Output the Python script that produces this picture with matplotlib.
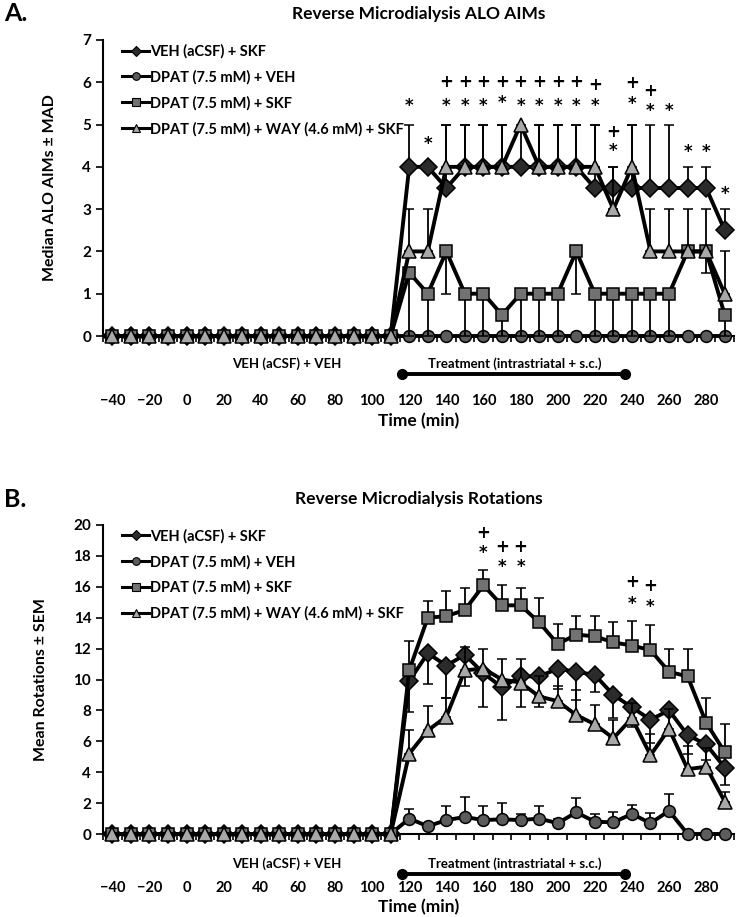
import numpy as np
import matplotlib.pyplot as plt
from matplotlib.lines import Line2D

plt.rcParams['font.family'] = ['Lato', 'DejaVu Sans']
plt.rcParams['font.weight'] = 'bold'

# time points (min)
times = list(range(-40, 300, 10))
pre = [0] * 16

labels = ['VEH (aCSF) + SKF', 'DPAT (7.5 mM) + VEH',
          'DPAT (7.5 mM) + SKF', 'DPAT (7.5 mM) + WAY (4.6 mM) + SKF']

# ---- panel A: median AIMs +/- MAD
a_veh_skf = pre + [4, 4, 3.5, 4, 4, 4, 4, 4, 4, 4, 3.5, 3.5, 3.5, 3.5, 3.5, 3.5, 3.5, 2.5]
a_veh_skf_err = pre + [1, 0, 1.5, 1, 1, 1, 1, 1, 1, 1, 1.5, 0.5, 1.5, 1.5, 1.5, 0.5, 0.5, 0.5]
a_dpat_veh = [0] * 34
a_dpat_veh_err = [0] * 34
a_dpat_skf = pre + [1.5, 1, 2, 1, 1, 0.5, 1, 1, 1, 2, 1, 1, 1, 1, 1, 2, 2, 0.5]
a_dpat_skf_err = pre + [1.5, 1, 1, 1, 1, 0.5, 1, 1, 1, 1, 1, 1, 1, 1, 1, 0, 0.5, 0.5]
a_way = pre + [2, 2, 4, 4, 4, 4, 5, 4, 4, 4, 4, 3, 4, 2, 2, 2, 2, 1]
a_way_err = pre + [1, 1, 1, 1, 1, 1, 0, 1, 1, 1, 1, 1, 1, 1, 1, 1, 1, 1]

a_star_t = [120, 130, 140, 150, 160, 170, 180, 190, 200, 210, 220, 230, 240, 250, 260, 270, 280, 290]
a_star_y = [5.45, 4.55, 5.45, 5.45, 5.45, 5.5, 5.45, 5.45, 5.45, 5.45, 5.45, 4.37, 5.48, 5.32, 5.32, 4.35, 4.35, 3.35]
a_plus_t = [140, 150, 160, 170, 180, 190, 200, 210, 220, 230, 240, 250]
a_plus_y = [6.0, 6.0, 6.0, 6.0, 6.0, 6.0, 6.0, 6.0, 5.93, 4.83, 5.98, 5.8]

# ---- panel B: mean rotations +/- SEM
b_veh_skf = pre + [9.9, 11.7, 10.9, 11.6, 10.4, 9.5, 10.2, 10.2, 10.7, 10.5, 10.3, 9.0, 8.2, 7.4, 8.0, 6.4, 5.8, 4.3]
b_veh_skf_err = pre + [2.0, 2.0, 2.1, 2.0, 2.2, 2.1, 2.0, 2.0, 1.3, 1.8, 1.1, 1.5, 1.3, 1.5, 1.5, 1.2, 1.0, 1.1]
b_dpat_veh = pre + [1.0, 0.5, 0.9, 1.1, 0.9, 0.95, 0.9, 1.0, 0.7, 1.4, 0.8, 0.75, 1.3, 0.7, 1.5, 0, 0, 0]
b_dpat_veh_err = pre + [0.6, 0.2, 0.9, 1.3, 0.9, 1.05, 0.4, 0.8, 0.3, 0.9, 0.5, 0.65, 0.6, 0.65, 1.1, 0, 0, 0]
b_dpat_skf = pre + [10.6, 14.0, 14.1, 14.5, 16.1, 14.8, 14.8, 13.7, 12.3, 12.9, 12.8, 12.4, 12.2, 11.9, 10.5, 10.2, 7.2, 5.3]
b_dpat_skf_err = pre + [1.9, 1.1, 1.6, 1.4, 1.0, 1.3, 1.1, 1.6, 1.3, 1.2, 1.3, 1.3, 1.6, 1.6, 1.5, 1.8, 1.6, 1.8]
b_way = pre + [5.2, 6.7, 7.6, 10.6, 10.7, 10.0, 9.8, 8.9, 8.6, 7.7, 7.1, 6.2, 7.5, 5.1, 6.8, 4.2, 4.35, 2.1]
b_way_err = pre + [1.5, 1.6, 1.2, 1.5, 1.3, 1.3, 1.5, 1.3, 1.0, 1.6, 1.25, 1.2, 1.0, 1.4, 1.3, 1.5, 1.2, 0.6]

b_star_t = [160, 170, 180, 240, 250]
b_star_y = [18.2, 17.25, 17.25, 14.9, 14.7]
b_plus_t = [160, 170, 180, 240, 250]
b_plus_y = [19.5, 18.6, 18.6, 16.3, 16.05]

# marker styles: (marker, fill, size)
styles = [('D', '#2b2b2b', 9.5), ('o', '#5c5c5c', 8.5), ('s', '#727272', 8), ('^', '#a8a8a8', 10)]


def one_sided(err):
    # error drawn on one side only; zero errors are dropped
    e = np.array(err, dtype=float)
    e[e == 0] = np.nan
    z = np.where(np.isnan(e), np.nan, 0.0)
    return z, e


def draw(ax, series, dirs, ymax, ystep, ylabel, title, letter,
         star_t, star_y, plus_t, plus_y, pad):
    for i, ((y, err), d) in enumerate(zip(series, dirs)):
        m, fc, ms = styles[i]
        z, e = one_sided(err)
        yerr = [z, e] if d == 'up' else [e, z]
        ax.errorbar(times, y, yerr=yerr, color='black', lw=2.8, marker=m, ms=ms,
                    mfc=fc, mec='black', mew=1.1, ecolor='black', elinewidth=1.3,
                    capsize=3.5, capthick=1.3, zorder=2 + i, clip_on=False)
    for t, v in zip(star_t, star_y):
        ax.text(t, v, '*', ha='center', va='center', fontsize=12,
                fontweight='bold', family='DejaVu Sans')
    for t, v in zip(plus_t, plus_y):
        ax.text(t, v, '+', ha='center', va='center', fontsize=12,
                fontweight='bold', family='DejaVu Sans')

    ax.set_xlim(-45, 295)
    ax.set_ylim(0, ymax)
    ax.set_yticks(np.arange(0, ymax + 0.1, ystep))
    ax.set_xticks(np.arange(-40, 290, 20))
    ax.set_xticks(np.arange(-45, 300, 10), minor=True)
    ax.tick_params(axis='x', which='major', length=0, pad=pad, labelsize=10.5)
    ax.tick_params(axis='x', which='minor', length=4, width=1.2, direction='out')
    ax.tick_params(axis='y', length=5, width=1.2, labelsize=11)
    for s in ['top', 'right']:
        ax.spines[s].set_visible(False)
    for s in ['left', 'bottom']:
        ax.spines[s].set_linewidth(1.5)
    ax.set_ylabel(ylabel, fontsize=11.5, fontweight='bold', labelpad=18)
    ax.set_xlabel('Time (min)', fontsize=12.5, fontweight='bold', labelpad=3)
    ax.set_title(title, fontsize=12.5, fontweight='bold', pad=15)

    handles = [Line2D([], [], color='black', lw=2.2, marker=st[0], ms=5.5,
                      mfc=st[1], mec='black', mew=0.8) for st in styles]
    ax.legend(handles, labels, loc='upper left', bbox_to_anchor=(0.01, 1.03),
              frameon=False, prop={'size': 10.5, 'weight': 'bold'},
              handlelength=1.8, handletextpad=0.1, labelspacing=0.78)

    tr = ax.get_xaxis_transform()
    ax.text(54, -0.095, 'VEH (aCSF) + VEH', transform=tr, ha='center',
            va='center', fontsize=9.5, fontweight='bold')
    ax.text(177, -0.095, 'Treatment (intrastriatal + s.c.)', transform=tr,
            ha='center', va='center', fontsize=9.5, fontweight='bold')
    ax.plot([116, 236], [-0.128, -0.128], transform=tr, color='black', lw=2.8,
            marker='o', ms=7, clip_on=False)
    ax.figure.text(0.005, ax.get_position().y1 + 26 / 917, letter, fontsize=18,
                   fontweight='bold', va='center')


fig = plt.figure(figsize=(7.37, 9.17), dpi=100)
axA = fig.add_axes([103 / 737, 1 - 336 / 917, 631 / 737, 296 / 917])
axB = fig.add_axes([103 / 737, 1 - 834 / 917, 631 / 737, 309 / 917])

draw(axA,
     [(a_veh_skf, a_veh_skf_err), (a_dpat_veh, a_dpat_veh_err),
      (a_dpat_skf, a_dpat_skf_err), (a_way, a_way_err)],
     ['up', 'up', 'down', 'up'], 7, 1, 'Median ALO AIMs \u00b1 MAD',
     'Reverse Microdialysis ALO AIMs', 'A.',
     a_star_t, a_star_y, a_plus_t, a_plus_y, pad=42)

draw(axB,
     [(b_veh_skf, b_veh_skf_err), (b_dpat_veh, b_dpat_veh_err),
      (b_dpat_skf, b_dpat_skf_err), (b_way, b_way_err)],
     ['down', 'up', 'up', 'up'], 20, 2, 'Mean Rotations \u00b1 SEM',
     'Reverse Microdialysis Rotations', 'B.',
     b_star_t, b_star_y, b_plus_t, b_plus_y, pad=34)

fig.savefig('out.png', dpi=100)
